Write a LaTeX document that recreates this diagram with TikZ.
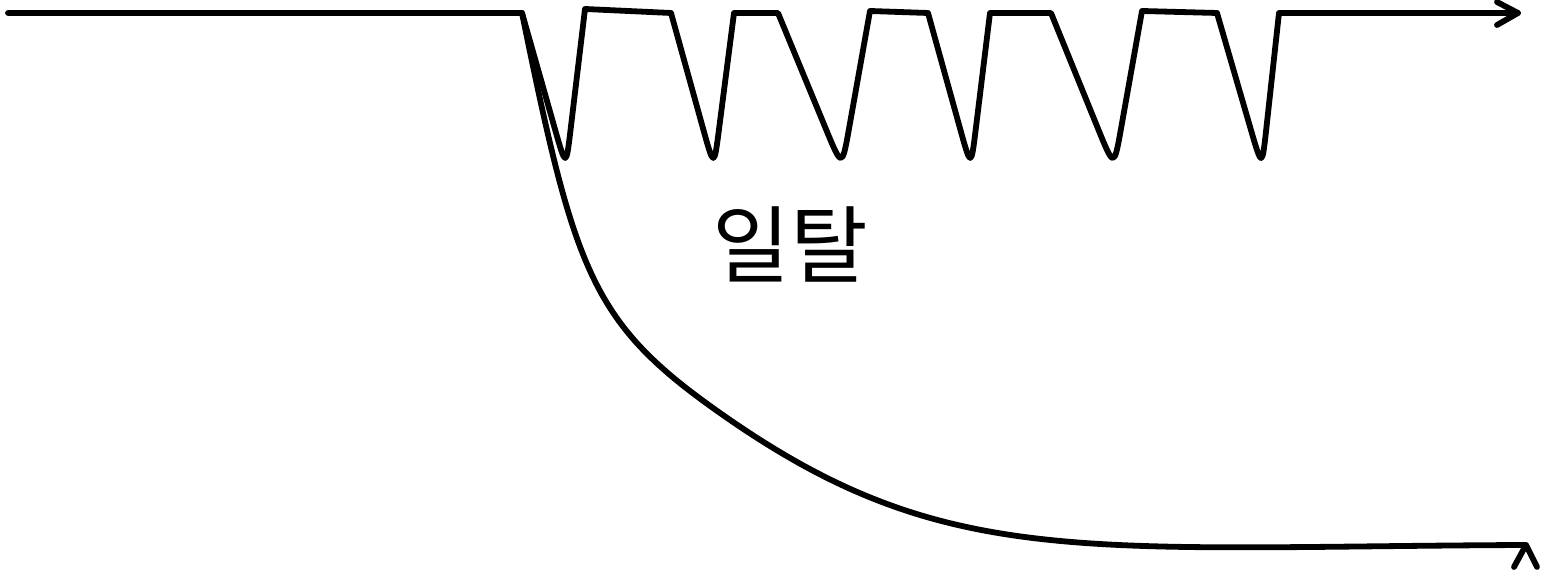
\documentclass[tikz,border=0pt]{standalone}
\usepackage{fontspec}
\newfontfamily\krfont{Noto Sans CJK KR}
\newcommand\wdip[5]{% #1 xs, #2 ys, #3 xb, #4 xe, #5 ye ; apex y = 168
  -- ({#1+(#3-#1)*(128-#2)/(168-#2)},128)
  .. controls (#3,168) .. ({#3+(#4-#3)*(168-128)/(168-#5)},128)
  -- (#4,#5)}
\tikzset{
  stroke/.style={line width=1.65pt, line cap=round, line join=round, black},
  label/.style={font=\krfont\fontsize{24pt}{29pt}\selectfont, inner sep=0pt}
}
\begin{document}
\begin{tikzpicture}[x=0.01cm, y=-0.01cm]
\useasboundingbox (0,0) rectangle (1544,574);
\coordinate (s) at (8,13);
\coordinate (fork) at (522,13);
\coordinate (e1) at (1518,13);
\coordinate (e2) at (1526,545);
% wave path
\draw[stroke] (s) -- (fork)
  \wdip{522}{13}{566}{585}{9} -- (671,13)
  \wdip{671}{13}{714}{734}{13} -- (778,13)
  \wdip{778}{13}{842}{870}{11} -- (928,13)
  \wdip{928}{13}{971}{990}{13} -- (1051,13)
  \wdip{1051}{13}{1114}{1142}{11} -- (1217,13)
  \wdip{1217}{13}{1262}{1279}{13} -- (e1);
\draw[stroke] (1497,2) -- (e1) -- (1497,25);
% deviation curve
\draw[stroke] (fork) .. controls (574,268) and (591,321) .. (713,408)
  .. controls (941,571) and (1074,547) .. (e2);
\draw[stroke] (1514,567) -- (e2) -- (1537,567);
\node[label] (t) at (790,244) {일탈};
\end{tikzpicture}
\end{document}
